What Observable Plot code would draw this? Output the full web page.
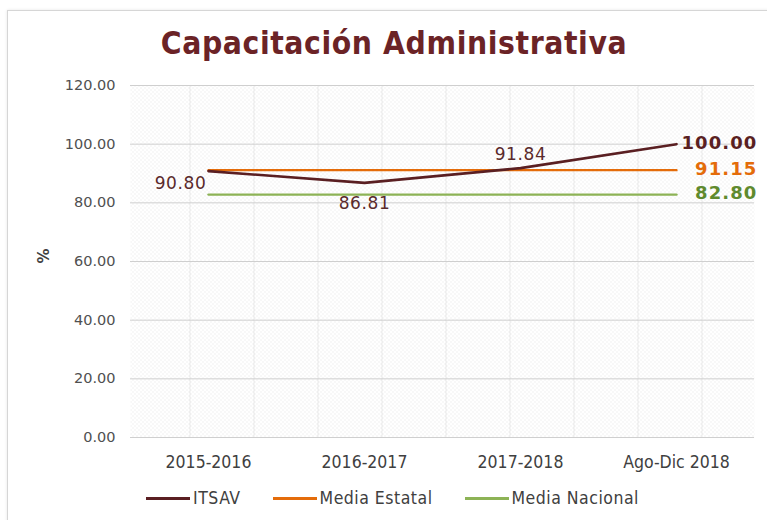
<!DOCTYPE html>
<html>
<head>
<meta charset="utf-8">
<script src="https://cdn.jsdelivr.net/npm/d3@7"></script>
<script src="https://cdn.jsdelivr.net/npm/@observablehq/plot@0.6"></script>
<style>
  html, body { margin: 0; padding: 0; background: #fff; }
  #wrap { position: relative; width: 767px; height: 520px; overflow: hidden; background: #fff; }
  #frame { position: absolute; left: 7px; top: 10px; width: 800px; height: 560px; border: 1px solid #d6d6d6; box-shadow: 0 0 3px #e6e6e6; }
  #title { position: absolute; left: 0; top: 25px; width: 788px; text-align: center; font-family: "DejaVu Sans Condensed", "DejaVu Sans", sans-serif; font-weight: bold; font-size: 31.5px; color: #6b2326; letter-spacing: 0.6px; }
  #chart { position: absolute; left: 0; top: 75px; }
  #legend { position: absolute; left: 0; top: 488px; width: 767px; display: flex; justify-content: center; gap: 32px; font-family: "DejaVu Sans Condensed", "DejaVu Sans", sans-serif; font-size: 17.5px; letter-spacing: 0.5px; color: #404040; padding-left: 18px; box-sizing: border-box; }
  .item { display: flex; align-items: center; }
  .sw { display: inline-block; width: 44px; height: 3px; margin-right: 3px; }
</style>
</head>
<body>
<div id="wrap">
  <div id="frame"></div>
  <div id="title">Capacitación Administrativa</div>
  <div id="chart"></div>
  <div id="legend"></div>
</div>
<script>
const categories = ["2015-2016", "2016-2017", "2017-2018", "Ago-Dic 2018"];
const itsav = [90.80, 86.81, 91.84, 100.00];
const mediaEstatal = [91.15, 91.15, 91.15, 91.15];
const mediaNacional = [82.80, 82.80, 82.80, 82.80];
const yTicks = [0, 20, 40, 60, 80, 100, 120];
const seriesNames = ["ITSAV", "Media Estatal", "Media Nacional"];
const seriesColors = ["#5a1f22", "#e46c0a", "#8db356"];
const labelColors = ["#5a1f22", "#e46c0a", "#5f8a2e"];

const rows = [];
[itsav, mediaEstatal, mediaNacional].forEach((vals, s) => {
  vals.forEach((v, i) => rows.push({series: seriesNames[s], cat: categories[i], value: v, i}));
});
const itsavRows = rows.filter(d => d.series === "ITSAV");
const lastRows = rows.filter(d => d.i === categories.length - 1);
const labelPos = [{dx: -28, dy: 12}, {dx: 0, dy: 21}, {dx: 0, dy: -14}];
const midLabels = itsavRows.filter(d => d.i < categories.length - 1).map(d => ({...d, ...labelPos[d.i]}));

const fontV = "'DejaVu Sans', Verdana, sans-serif";

const chart = Plot.plot({
  width: 767,
  height: 402,
  marginLeft: 130,
  marginRight: 13,
  marginTop: 10,
  marginBottom: 40,
  style: {fontFamily: fontV, fontSize: "13px", color: "#595959", overflow: "visible", background: "transparent"},
  x: {type: "point", domain: categories, padding: 0.5, label: null},
  y: {domain: [0, 120], label: null},
  color: {domain: seriesNames, range: seriesColors},
  marks: [
    Plot.frame({fill: "url(#dotpat)", stroke: null}),
    Plot.gridY(yTicks, {stroke: "#cfcfcf", strokeOpacity: 1, strokeWidth: 1}),
    Plot.axisX({tickSize: 0, tickPadding: 18, fontFamily: "'DejaVu Sans Condensed', 'DejaVu Sans', sans-serif", fontSize: 17.5, fill: "#404040"}),
    Plot.axisY({ticks: yTicks, tickFormat: d => d.toFixed(2), tickSize: 0, tickPadding: 15, fontSize: 14.5, fill: "#505050", label: null}),
    Plot.line(rows.filter(d => d.series !== "ITSAV"), {x: "cat", y: "value", stroke: "series", z: "series", strokeWidth: 2.4}),
    Plot.line(itsavRows, {x: "cat", y: "value", stroke: "series", strokeWidth: 2.6}),
    Plot.text(midLabels, {x: "cat", y: "value", text: d => d.value.toFixed(2), fill: "#5a2a2c", fontSize: 17, fontFamily: fontV}),
    Plot.text(lastRows, {x: "cat", y: "value", text: d => d.value.toFixed(2), textAnchor: "end", dx: 81, dy: -1, fill: d => labelColors[seriesNames.indexOf(d.series)], fontWeight: "bold", fontSize: 18, fontFamily: fontV}),
    Plot.text(["%"], {frameAnchor: "left", dx: -86, dy: 2, rotate: -90, fontWeight: "bold", fontSize: 15, fill: "#404040"})
  ]
});

// individual offsets for the mid labels, letter spacing for labels
const textGroups = chart.querySelectorAll("g[aria-label='text']");
if (textGroups[0]) {
  textGroups[0].setAttribute("letter-spacing", "0.6");
  textGroups[0].querySelectorAll("text").forEach((t, k) => {
    const p = midLabels[k];
    const tr = t.getAttribute("transform") || "";
    t.setAttribute("transform", tr + ` translate(${p.dx},${p.dy})`);
  });
}
if (textGroups[1]) textGroups[1].setAttribute("letter-spacing", "1.1");

// dotted background pattern with faint vertical lines
const ns = "http://www.w3.org/2000/svg";
const defs = document.createElementNS(ns, "defs");
defs.innerHTML = `
<pattern id="dotpat" patternUnits="userSpaceOnUse" width="64" height="4" x="0" y="0">
  <rect width="64" height="4" fill="#ffffff"/>
  ${Array.from({length: 16}, (_, k) => `<rect x="${k*4}" y="0" width="1" height="1" fill="#e2e2e2"/><rect x="${k*4+2}" y="2" width="1" height="1" fill="#e2e2e2"/>`).join("")}
  <rect x="61" y="0" width="1" height="4" fill="#ececec"/>
</pattern>`;
chart.insertBefore(defs, chart.firstChild);
document.getElementById("chart").appendChild(chart);

// legend
const leg = document.getElementById("legend");
seriesNames.forEach((n, s) => {
  const it = document.createElement("div");
  it.className = "item";
  it.innerHTML = `<span class="sw" style="background:${seriesColors[s]}"></span><span>${n}</span>`;
  leg.appendChild(it);
});
</script>
</body>
</html>
